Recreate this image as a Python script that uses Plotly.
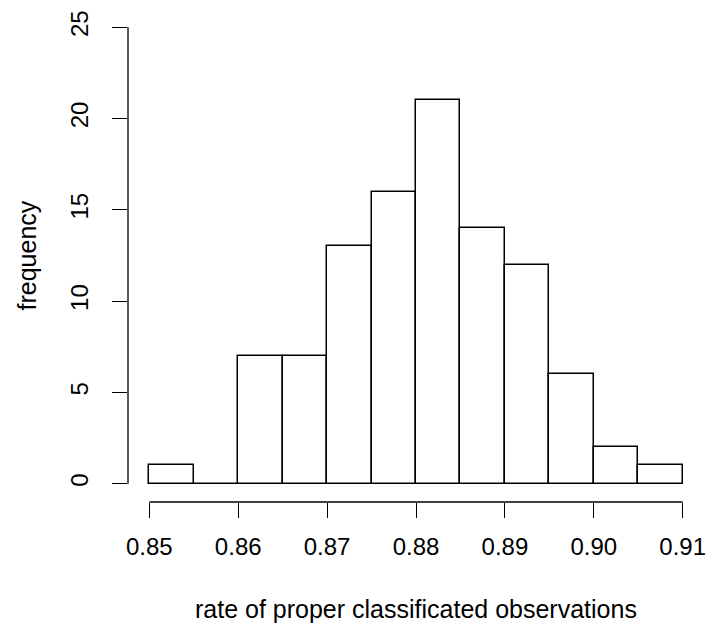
import plotly.graph_objects as go

# Data: histogram bin edges and counts
bin_edges = [0.850, 0.855, 0.860, 0.865, 0.870, 0.875, 0.880, 0.885, 0.890, 0.895, 0.900, 0.905, 0.910]
counts = [1, 0, 7, 7, 13, 16, 21, 14, 12, 6, 2, 1]
x_ticks = [0.85, 0.86, 0.87, 0.88, 0.89, 0.90, 0.91]
x_tick_labels = ["0.85", "0.86", "0.87", "0.88", "0.89", "0.90", "0.91"]
y_ticks = [0, 5, 10, 15, 20, 25]
y_tick_labels = ["0", "5", "10", "15", "20", "25"]
x_title = "rate of proper classificated observations"
y_title = "frequency"

mids = [(a + b) / 2 for a, b in zip(bin_edges[:-1], bin_edges[1:])]
widths = [b - a for a, b in zip(bin_edges[:-1], bin_edges[1:])]

FONT = "Liberation Sans, Arial, Helvetica, sans-serif"
FS_TICK = 24
FS_TITLE = 25

# R-style 4% axis extension
xspan = bin_edges[-1] - bin_edges[0]
xr = [bin_edges[0] - 0.04 * xspan, bin_edges[-1] + 0.04 * xspan]
yspan = y_ticks[-1] - y_ticks[0]
yr = [y_ticks[0] - 0.04 * yspan, y_ticks[-1] + 0.04 * yspan]

fig = go.Figure()
fig.add_trace(go.Bar(
    x=mids, y=counts, width=widths,
    marker=dict(color="white", line=dict(color="black", width=1.5)),
    showlegend=False, hoverinfo="skip",
))

fig.update_layout(
    width=709, height=630,
    margin=dict(l=128, r=5, t=9, b=128, autoexpand=False),
    paper_bgcolor="white", plot_bgcolor="white",
    font=dict(family=FONT, size=FS_TICK, color="black"),
    bargap=0,
    xaxis=dict(
        range=xr, showgrid=False, zeroline=False, showline=False,
        tickmode="array", tickvals=x_ticks, ticktext=x_tick_labels,
        ticks="outside", ticklen=15, tickwidth=1.3, tickcolor="black",
        ticklabelstandoff=8,
        tickfont=dict(family=FONT, size=FS_TICK, color="black"),
    ),
    yaxis=dict(
        range=yr, showgrid=False, zeroline=False, showline=False,
        tickmode="array", tickvals=y_ticks, ticktext=y_tick_labels,
        ticks="outside", ticklen=15, tickwidth=1.3, tickcolor="black",
        tickangle=-90, ticklabelstandoff=14,
        tickfont=dict(family=FONT, size=FS_TICK, color="black"),
    ),
    shapes=[
        dict(type="line", xref="x", yref="paper", x0=x_ticks[0], x1=x_ticks[-1], y0=0, y1=0,
             line=dict(color="black", width=1.3)),
        dict(type="line", xref="paper", yref="y", x0=0, x1=0, y0=y_ticks[0], y1=y_ticks[-1],
             line=dict(color="black", width=1.3)),
    ],
    annotations=[
        dict(text=x_title, xref="paper", yref="paper", x=0.5, y=0, yshift=-91,
             xanchor="center", yanchor="top", showarrow=False,
             font=dict(family=FONT, size=FS_TITLE, color="black")),
        dict(text=y_title, xref="paper", yref="paper", x=0, y=0.5, xshift=-102,
             xanchor="center", yanchor="middle", textangle=-90, showarrow=False,
             font=dict(family=FONT, size=FS_TITLE, color="black")),
    ],
)

fig.write_html("out.html")
